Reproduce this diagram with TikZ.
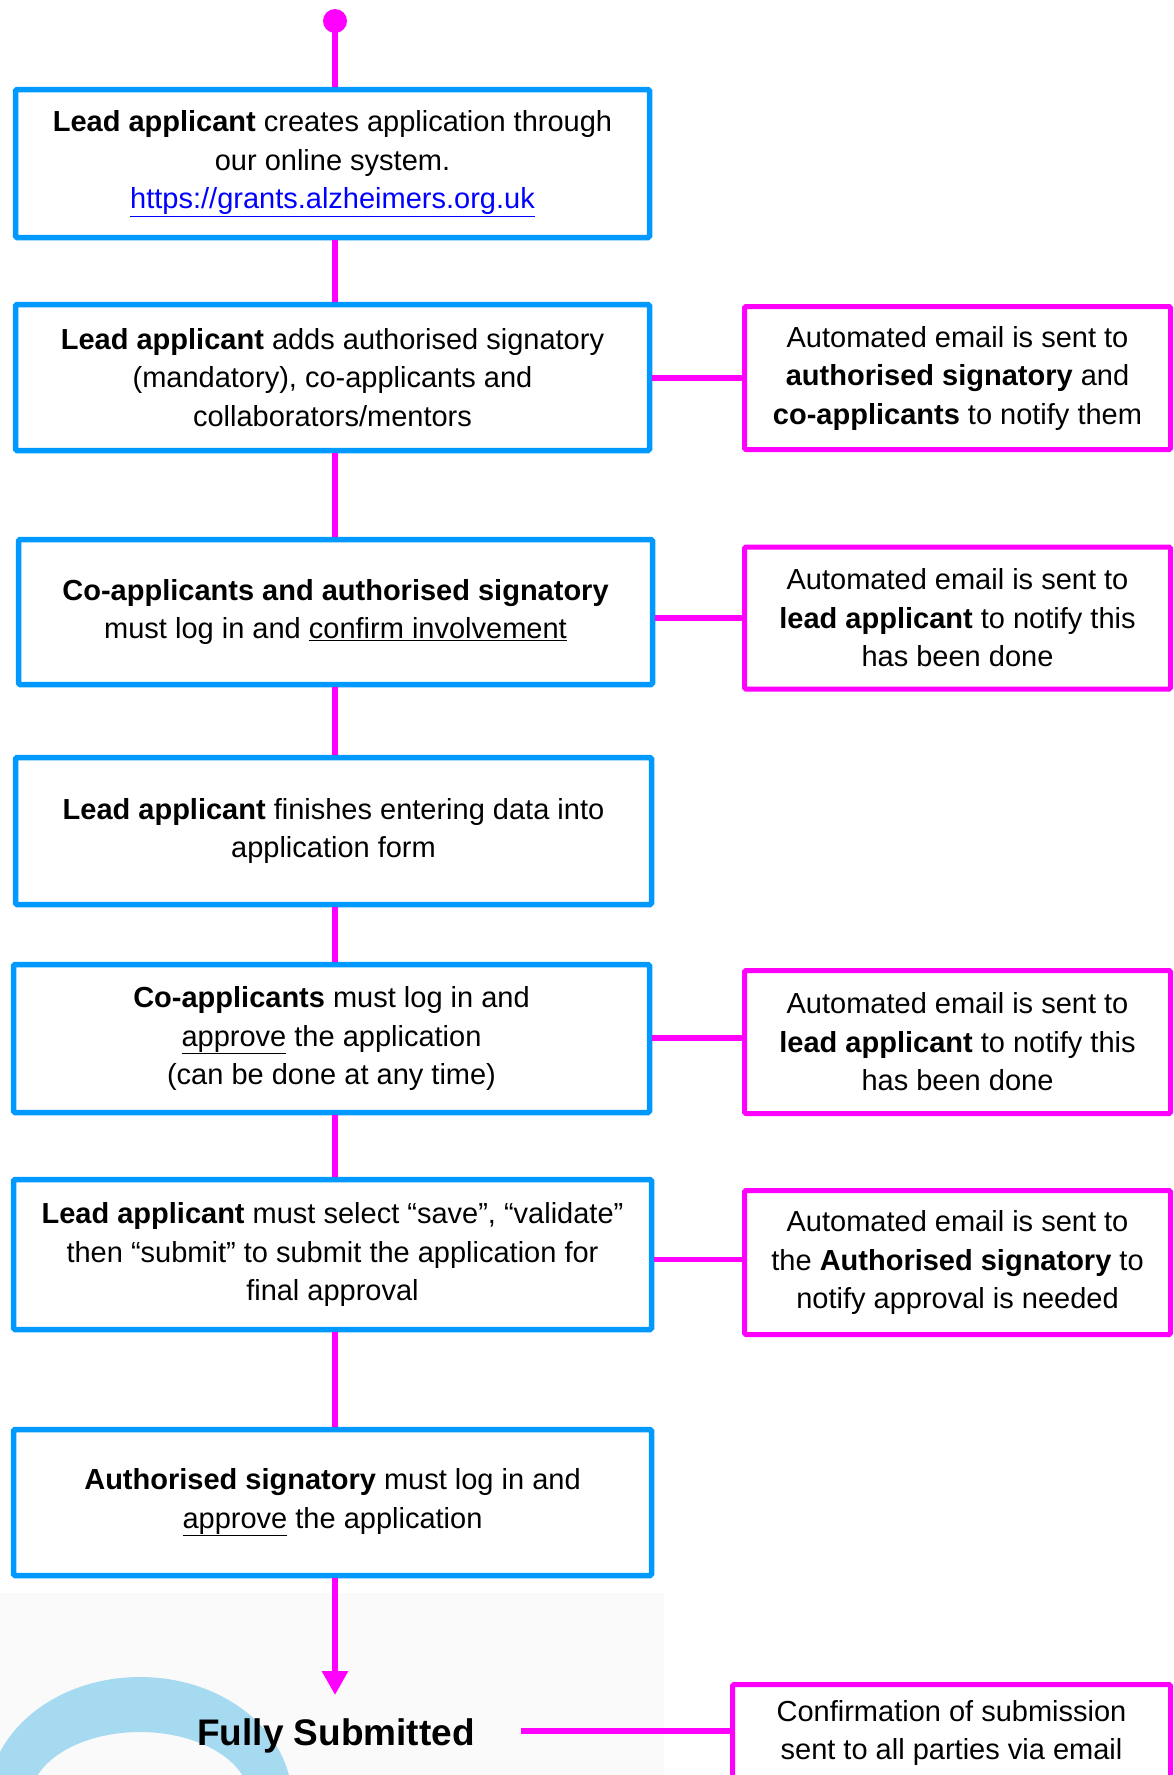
\documentclass[tikz,border=0pt]{standalone}
\usepackage{fontspec}
\setmainfont{Liberation Sans}
\usetikzlibrary{arrows.meta}
\definecolor{boxblue}{HTML}{0099FF}
\definecolor{mag}{HTML}{FF00FF}
\definecolor{linkblue}{HTML}{0000FF}
\definecolor{wmblue}{HTML}{A6DAF0}
\definecolor{wmgray}{HTML}{FAFAFA}
\tikzset{
  bluebox/.style={draw=boxblue, line width=5.5pt, rounded corners=1.5pt, fill=white,
    align=center, font=\fontsize{29}{38.5}\selectfont, inner sep=0pt},
  magbox/.style={draw=mag, line width=5pt, rounded corners=1.5pt, fill=white,
    align=center, font=\fontsize{29}{38.5}\selectfont, inner sep=0pt,
    minimum width=426pt},
  flow/.style={draw=mag, line width=6.5pt},
  side/.style={draw=mag, line width=5.5pt},
}
\begin{document}
\begin{tikzpicture}[x=1pt,y=-1pt]
\useasboundingbox (0,0) rectangle (1173,1775);
% watermark
\fill[wmgray] (0,1593) rectangle (664,1775);
\begin{scope}
\clip (0,1593) rectangle (664,1775);
\fill[wmblue, even odd rule] (140,1800) ellipse [x radius=152, y radius=123]
  (140,1800) ellipse [x radius=110, y radius=68];
\end{scope}
% main boxes
\node[bluebox, minimum width=634pt, minimum height=148pt] (b1) at (332.5,163.5)
  {\textbf{Lead applicant} creates application through\\ our online system.\\
   \textcolor{linkblue}{\underline{https://grants.alzheimers.org.uk}}};
\node[bluebox, minimum width=634pt, minimum height=146pt] (b2) at (332.5,377.5)
  {\textbf{Lead applicant} adds authorised signatory\\ (mandatory), co-applicants and\\ collaborators/mentors};
\node[bluebox, minimum width=634pt, minimum height=145pt] (b3) at (335.5,612)
  {\textbf{Co-applicants and authorised signatory}\\ must log in and \underline{confirm involvement}};
\node[bluebox, minimum width=636pt, minimum height=147pt] (b4) at (333.5,831)
  {\textbf{Lead applicant} finishes entering data into\\ application form};
\node[bluebox, minimum width=636pt, minimum height=148pt] (b5) at (331.5,1038.5)
  {\textbf{Co-applicants} must log in and\\ \underline{approve} the application\\ (can be done at any time)};
\node[bluebox, minimum width=638pt, minimum height=150pt] (b6) at (332.5,1254.5)
  {\textbf{Lead applicant} must select “save”, “validate”\\ then “submit” to submit the application for\\ final approval};
\node[bluebox, minimum width=638pt, minimum height=146pt] (b7) at (332.5,1502.5)
  {\textbf{Authorised signatory} must log in and\\ \underline{approve} the application};
\node[font=\fontsize{37}{44}\selectfont\bfseries, inner sep=0pt] (fs) at (336,1736) {Fully Submitted};
% side boxes
\node[magbox, minimum height=143pt] (ra) at (957.5,378)
  {Automated email is sent to\\ \textbf{authorised signatory} and\\ \textbf{co-applicants} to notify them};
\node[magbox, minimum height=142pt] (rb) at (957.5,618)
  {Automated email is sent to\\ \textbf{lead applicant} to notify this\\ has been done};
\node[magbox, minimum height=143pt] (rc) at (957.5,1042)
  {Automated email is sent to\\ \textbf{lead applicant} to notify this\\ has been done};
\node[magbox, minimum height=144pt] (rd) at (957.5,1262.5)
  {Automated email is sent to\\ the \textbf{Authorised signatory} to\\ notify approval is needed};
\node[magbox, minimum width=438pt, minimum height=97pt] (re) at (951.5,1733)
  {Confirmation of submission\\ sent to all parties via email};
% start dot
\coordinate (top) at (335,21);
\coordinate (tip) at (335,1695);
\coordinate (fse) at (521,1731);
% vertical flow
\draw[flow] (top) -- (top |- b1.north);
\draw[flow] (top |- b1.south) -- (top |- b2.north);
\draw[flow] (top |- b2.south) -- (top |- b3.north);
\draw[flow] (top |- b3.south) -- (top |- b4.north);
\draw[flow] (top |- b4.south) -- (top |- b5.north);
\draw[flow] (top |- b5.south) -- (top |- b6.north);
\draw[flow] (top |- b6.south) -- (top |- b7.north);
\draw[flow, -{Triangle[width=25pt,length=24pt]}] (top |- b7.south) -- (tip);
\fill[mag] (top) circle (12);
% side connectors
\draw[side] (b2.east |- ra.west) -- (ra.west);
\draw[side] (b3.east |- rb.west) -- (rb.west);
\draw[side] ([yshift=4pt]b5.east |- rc.west) -- ([yshift=4pt]rc.west);
\draw[side] ([yshift=3pt]b6.east |- rd.west) -- ([yshift=3pt]rd.west);
\draw[side] (fse) -- (fse -| re.west);
\end{tikzpicture}
\end{document}
